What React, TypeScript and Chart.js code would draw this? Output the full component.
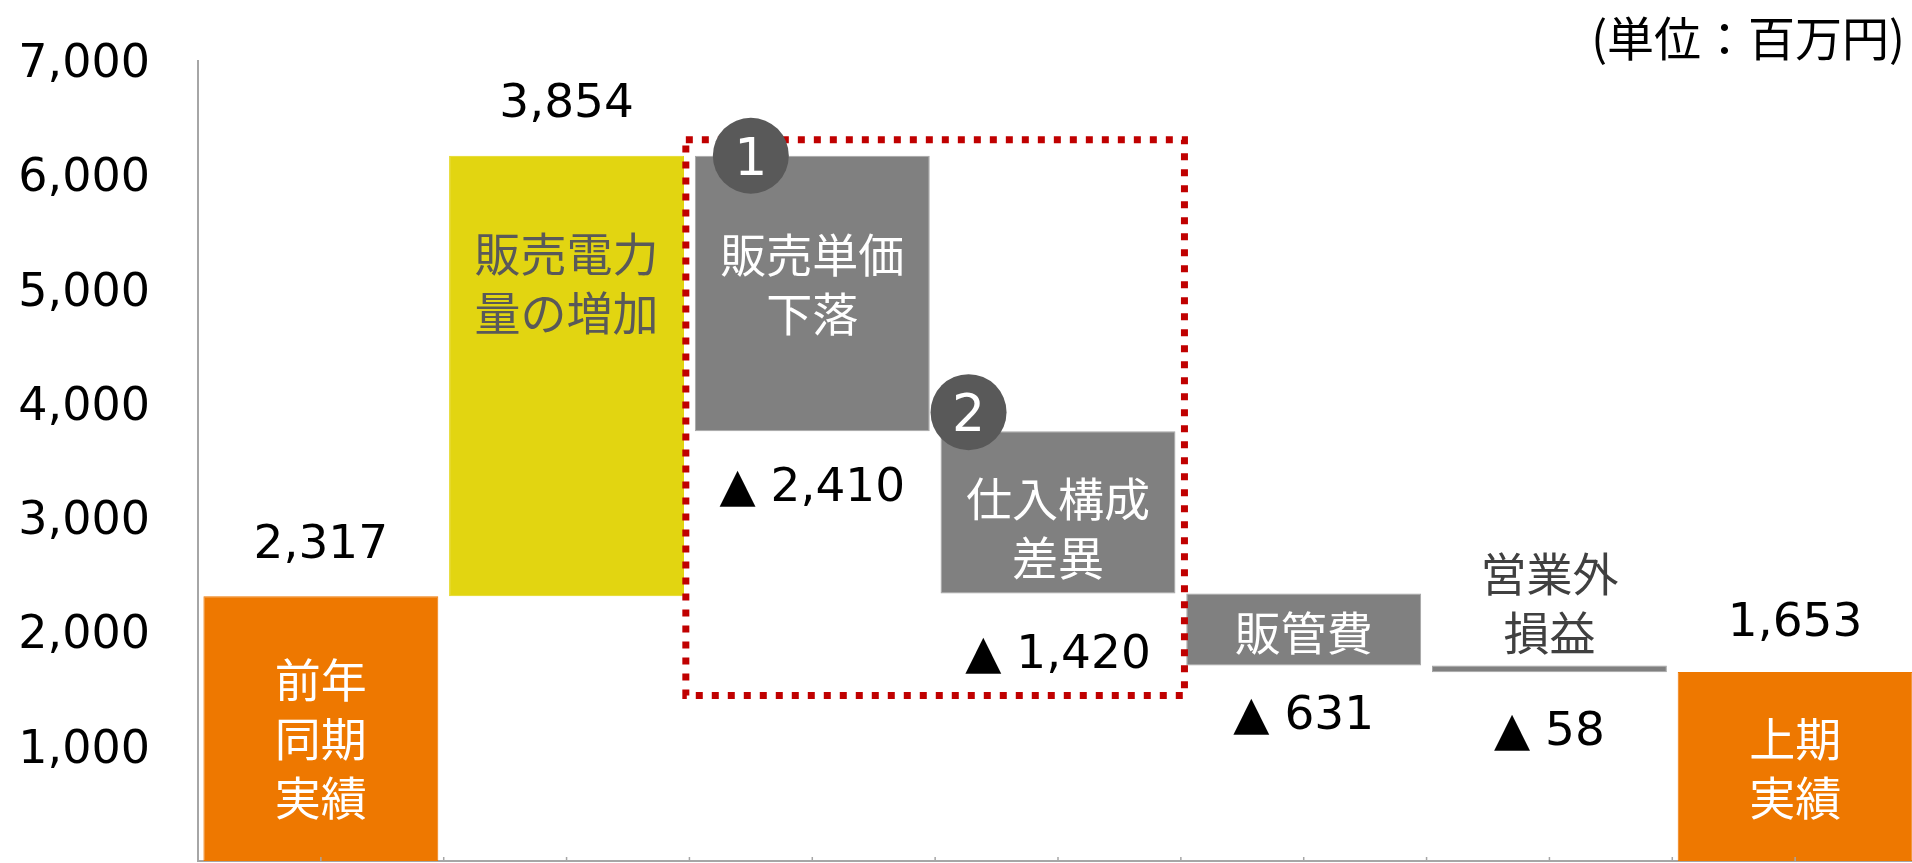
import React, { useEffect, useRef } from 'react';
import { Chart, registerables } from 'chart.js';

Chart.register(...registerables);

// ---------- data ----------
const categories = ['前年同期実績', '販売電力量の増加', '販売単価下落', '仕入構成差異', '販管費', '営業外損益', '上期実績'];
const barTextLines = [
  ['前年', '同期', '実績'],
  ['販売電力', '量の増加'],
  ['販売単価', '下落'],
  ['仕入構成', '差異'],
  ['販管費'],
  ['営業外', '損益'],
  ['上期', '実績'],
];
const changes = [2317, 3854, -2410, -1420, -631, -58, 1653];
const isTotal = [true, false, false, false, false, false, true];
const valueLabels = ['2,317', '3,854', '▲ 2,410', '▲ 1,420', '▲ 631', '▲ 58', '1,653'];
const yMin = 0;
const yMax = 7000;
const yStep = 1000;
const badgeIndices = [2, 3];
const badgeTexts = ['1', '2'];
const framedIndices = [2, 3];
const unitText = '(単位：百万円)';

// ---------- styles ----------
const ORANGE = '#EE7800';
const YELLOW = '#E2D511';
const GRAY = '#808080';
const AXIS = '#A6A6A6';
const NUM_FONT = '"DejaVu Sans"';
const JP_FONT = '"Noto Sans CJK JP"';
const innerShift = [10, -92, -9, 16, 3, 0, 2]; // px shift of text block from bar centre
const valueGap = [55, 56, 53, 57, 46, 56, 53]; // px distance of value label from bar end
const badgeOffset = [[56, 0], [28, -19]];

// floating ranges built from the changes
const ranges: [number, number][] = [];
{
  let run = 0;
  changes.forEach((c, i) => {
    if (isTotal[i]) {
      ranges.push([0, c]);
      run = c;
    } else {
      ranges.push([run, run + c]);
      run += c;
    }
  });
}
const fillColors = changes.map((c, i) => (isTotal[i] ? ORANGE : c >= 0 ? YELLOW : GRAY));
const edgeColors = changes.map((c, i) => (isTotal[i] ? ORANGE : c >= 0 ? YELLOW : '#A5A5A5'));

function drawText(ctx: CanvasRenderingContext2D, text: string, x: number, cy: number, family: string, size: number, color: string, align: CanvasTextAlign = 'center', ink = 0.365) {
  ctx.font = `${size}px ${family}`;
  ctx.fillStyle = color;
  ctx.textAlign = align;
  ctx.textBaseline = 'alphabetic';
  ctx.fillText(text, x, cy + ink * size);
}

const overlayPlugin = {
  id: 'overlay',
  afterDatasetsDraw(chart: any) {
    const ctx: CanvasRenderingContext2D = chart.ctx;
    const meta = chart.getDatasetMeta(0);
    const xs = chart.scales.x;
    const area = chart.chartArea;
    const rects = meta.data.map((el: any) => {
      const p = el.getProps(['x', 'y', 'base', 'width'], true);
      const top = Math.min(p.y, p.base);
      const bottom = Math.max(p.y, p.base);
      return { left: p.x - p.width / 2, right: p.x + p.width / 2, top, bottom, cx: p.x };
    });

    ctx.save();

    // x-axis tick marks (category centres and boundaries)
    const half = (xs.getPixelForValue(1) - xs.getPixelForValue(0)) / 2;
    ctx.strokeStyle = AXIS;
    ctx.lineWidth = 1.5;
    for (let i = 0; i < categories.length; i++) {
      const c = xs.getPixelForValue(i);
      [c, c + half].forEach((x) => {
        ctx.beginPath();
        ctx.moveTo(x, area.bottom - 4);
        ctx.lineTo(x, area.bottom);
        ctx.stroke();
      });
    }

    // value labels
    rects.forEach((r: any, i: number) => {
      const up = changes[i] >= 0;
      const cy = up ? r.top - valueGap[i] : r.bottom + valueGap[i];
      drawText(ctx, valueLabels[i], r.cx, cy, NUM_FONT, 47, '#000');
    });

    // text inside bars
    const lineGap = 59;
    rects.forEach((r: any, i: number) => {
      const lines = barTextLines[i];
      const h = r.bottom - r.top;
      let color = isTotal[i] ? '#FFFFFF' : changes[i] >= 0 ? '#595959' : '#FFFFFF';
      let centre = (r.top + r.bottom) / 2 + innerShift[i];
      if (h < 30) {
        color = '#404040';
        centre = r.top - 62;
      }
      const start = centre - ((lines.length - 1) * lineGap) / 2;
      lines.forEach((t, k) => drawText(ctx, t, r.cx, start + k * lineGap, JP_FONT, 46, color, 'center', 0.37));
    });

    // dotted frame
    const a = rects[framedIndices[0]];
    const b = rects[framedIndices[framedIndices.length - 1]];
    ctx.setLineDash([7, 9]);
    ctx.lineWidth = 7;
    ctx.strokeStyle = '#C00000';
    ctx.strokeRect(a.left - 9, a.top - 16, b.right + 9 - (a.left - 9), b.bottom + 102 - (a.top - 16));
    ctx.setLineDash([]);

    // numbered badges
    badgeIndices.forEach((idx, k) => {
      const r = rects[idx];
      const x = r.left + badgeOffset[k][0];
      const y = r.top + badgeOffset[k][1];
      ctx.beginPath();
      ctx.arc(x, y, 38, 0, Math.PI * 2);
      ctx.fillStyle = '#595959';
      ctx.fill();
      drawText(ctx, badgeTexts[k], x, y, NUM_FONT, 52, '#FFFFFF');
    });

    // unit label
    drawText(ctx, unitText, 1905, 39, JP_FONT, 47, '#000', 'right', 0.37);

    ctx.restore();
  },
};

export default function App() {
  const ref = useRef<HTMLCanvasElement>(null);
  useEffect(() => {
    document.body.style.margin = '0';
    const chart = new Chart(ref.current as HTMLCanvasElement, {
      type: 'bar',
      data: {
        labels: categories,
        datasets: [
          {
            data: ranges as any,
            backgroundColor: fillColors,
            borderColor: edgeColors,
            borderWidth: 1,
            borderSkipped: false,
            barPercentage: 0.956,
            categoryPercentage: 1,
          },
        ],
      },
      options: {
        responsive: false,
        animation: false,
        layout: { padding: { top: 61, bottom: 2, left: 0, right: 0 } },
        plugins: { legend: { display: false }, tooltip: { enabled: false }, title: { display: false } },
        scales: {
          x: {
            grid: { display: false, drawTicks: false },
            ticks: { display: false },
            border: { display: true, color: AXIS, width: 2 },
            afterFit: (s: any) => {
              s.height = 0;
              s.paddingLeft = 0;
              s.paddingRight = 0;
            },
          },
          y: {
            min: yMin,
            max: yMax,
            grid: { display: false, drawTicks: false },
            border: { display: true, color: AXIS, width: 2 },
            ticks: {
              stepSize: yStep,
              padding: 48,
              labelOffset: 4,
              color: '#000',
              font: { family: 'DejaVu Sans', size: 46 },
              callback: (v: any) => (Number(v) === 0 ? null : Number(v).toLocaleString('en-US')),
            },
            afterFit: (s: any) => {
              s.width = 198;
              s.paddingTop = 0;
              s.paddingBottom = 0;
            },
          },
        },
      },
      plugins: [overlayPlugin],
    });
    return () => chart.destroy();
  }, []);

  return (
    <div style={{ position: 'fixed', left: 0, top: 0, width: 1912, height: 863, overflow: 'hidden', background: '#fff' }}>
      <canvas ref={ref} width={1918} height={863} style={{ display: 'block' }} />
    </div>
  );
}
